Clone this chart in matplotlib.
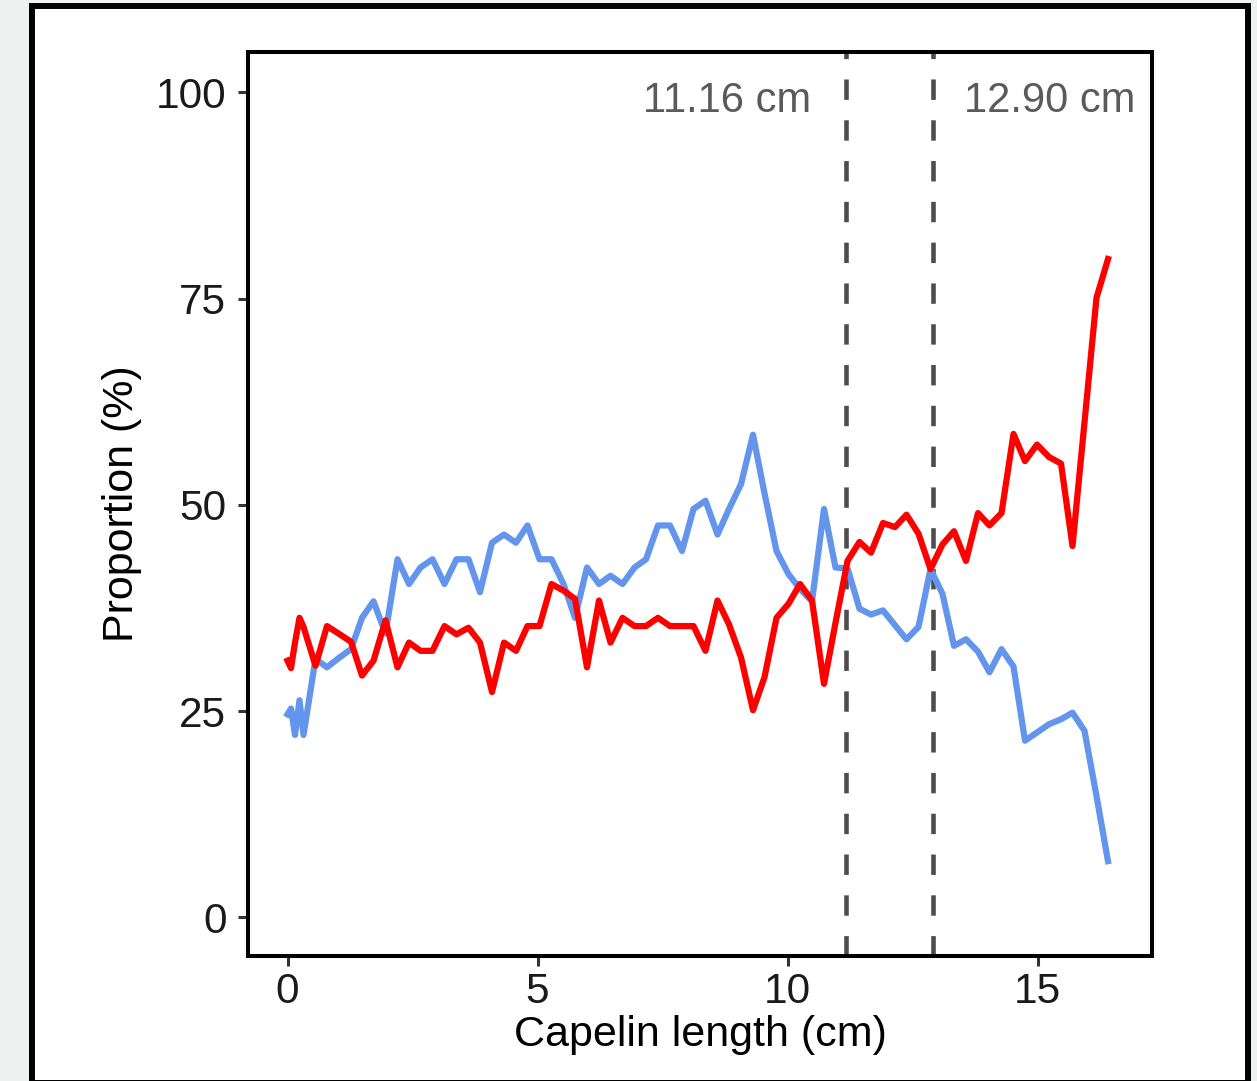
''' capelin length vs proportion '''
import matplotlib
matplotlib.use("Agg")
import matplotlib.pyplot as plt
from matplotlib.patches import Rectangle

# capelin length (cm) and proportions (%)
length_cm = [0.0, 0.07, 0.15, 0.24, 0.32, 0.56, 0.79, 1.02, 1.27, 1.49,
             1.72, 1.96, 2.2, 2.43, 2.66, 2.9, 3.14, 3.38, 3.62, 3.85,
             4.09, 4.33, 4.57, 4.8, 5.04, 5.28, 5.52, 5.75, 5.99, 6.23,
             6.46, 6.7, 6.94, 7.17, 7.41, 7.65, 7.89, 8.12, 8.36, 8.6,
             8.83, 9.07, 9.31, 9.54, 9.78, 10.02, 10.25, 10.49, 10.73, 10.96,
             11.2, 11.44, 11.67, 11.91, 12.15, 12.38, 12.62, 12.86, 13.1, 13.33,
             13.57, 13.81, 14.04, 14.28, 14.52, 14.75, 14.99, 15.23, 15.47, 15.7,
             15.94, 16.18, 16.41]

red_pct = [31.1, 30.2, 33.3, 36.3, 35.2, 30.5, 35.3, 34.4, 33.4, 29.3,
           31.1, 36.0, 30.3, 33.3, 32.3, 32.3, 35.3, 34.3, 35.1, 33.3,
           27.3, 33.3, 32.3, 35.3, 35.3, 40.4, 39.6, 38.6, 30.3, 38.4,
           33.3, 36.3, 35.3, 35.3, 36.3, 35.3, 35.3, 35.3, 32.3, 38.4,
           35.5, 31.5, 25.1, 29.1, 36.3, 38.0, 40.4, 38.4, 28.3, 35.7,
           43.2, 45.5, 44.2, 47.8, 47.3, 48.8, 46.5, 42.2, 45.2, 46.8,
           43.2, 49.0, 47.5, 49.0, 58.6, 55.3, 57.3, 55.8, 55.0, 45.0,
           60.0, 75.1, 79.8]

blue_pct = [24.6, 25.3, 22.1, 26.3, 22.1, 31.3, 30.3, 31.4, 32.5, 36.3,
            38.3, 34.4, 43.4, 40.4, 42.4, 43.4, 40.4, 43.4, 43.4, 39.4,
            45.4, 46.4, 45.4, 47.5, 43.4, 43.4, 40.4, 36.3, 42.4, 40.4,
            41.4, 40.4, 42.4, 43.4, 47.5, 47.5, 44.4, 49.5, 50.5, 46.4,
            49.5, 52.5, 58.5, 51.4, 44.4, 41.6, 39.8, 38.3, 49.5, 42.4,
            42.3, 37.4, 36.7, 37.2, 35.4, 33.7, 35.2, 42.2, 39.2, 32.9,
            33.7, 32.2, 29.7, 32.5, 30.4, 21.4, 22.4, 23.4, 24.0, 24.8,
            22.6, 14.7, 6.8]

cutoffs = [11.16, 12.90]
cutoff_labels = ["11.16 cm", "12.90 cm"]
x_ticks = [0, 5, 10, 15]
y_ticks = [0, 25, 50, 75, 100]


def main():
    '''main function '''
    plt.rcParams['font.family'] = ['Liberation Sans', 'DejaVu Sans']
    fig = plt.figure(figsize=(12.57, 10.81), dpi=100, facecolor='#eff1f0')

    # white card with black border behind the plot
    card = Rectangle((32 / 1257, 1 - 1082.5 / 1081), (1248 - 32) / 1257,
                     (1082.5 - 5.5) / 1081, transform=fig.transFigure,
                     facecolor='white', edgecolor='black', linewidth=4.3,
                     joinstyle='miter', zorder=-10)
    fig.patches.append(card)

    ax = fig.add_axes([248 / 1257, 1 - 956 / 1081, 904 / 1257, 904 / 1081])
    ax.set_facecolor('white')

    for c in cutoffs:
        ax.axvline(c, color='#4d4d4d', linewidth=3.3,
                   linestyle=(0, (4.45, 4.45)), zorder=1)

    ax.plot(length_cm, red_pct, color='#ff0000', linewidth=4.5, zorder=3)
    ax.plot(length_cm, blue_pct, color='#6495ed', linewidth=4.5, zorder=2)

    ax.text(10.48, 97.6, cutoff_labels[0], ha='right', va='baseline',
            fontsize=30, color='#5a5a5a')
    ax.text(13.52, 97.6, cutoff_labels[1], ha='left', va='baseline',
            fontsize=30, color='#5a5a5a')

    ax.set_xlim(-0.79, 17.29)
    ax.set_ylim(-4.7, 104.9)
    ax.set_xticks(x_ticks)
    ax.set_yticks(y_ticks)
    ax.tick_params(axis='both', length=7.5, width=2.2, color='#333333',
                   labelsize=30.5, labelcolor='#1a1a1a')
    ax.tick_params(axis='y', pad=8)
    ax.tick_params(axis='x', pad=4)
    for side in ['top', 'right', 'bottom', 'left']:
        ax.spines[side].set_linewidth(2.9)
        ax.spines[side].set_color('black')

    ax.set_xlabel('Capelin length (cm)', fontsize=31, labelpad=2)
    ax.set_ylabel('Proportion (%)', fontsize=31, labelpad=10)

    fig.savefig('out.png', dpi=100, facecolor=fig.get_facecolor())


if __name__ == "__main__":
    main()
